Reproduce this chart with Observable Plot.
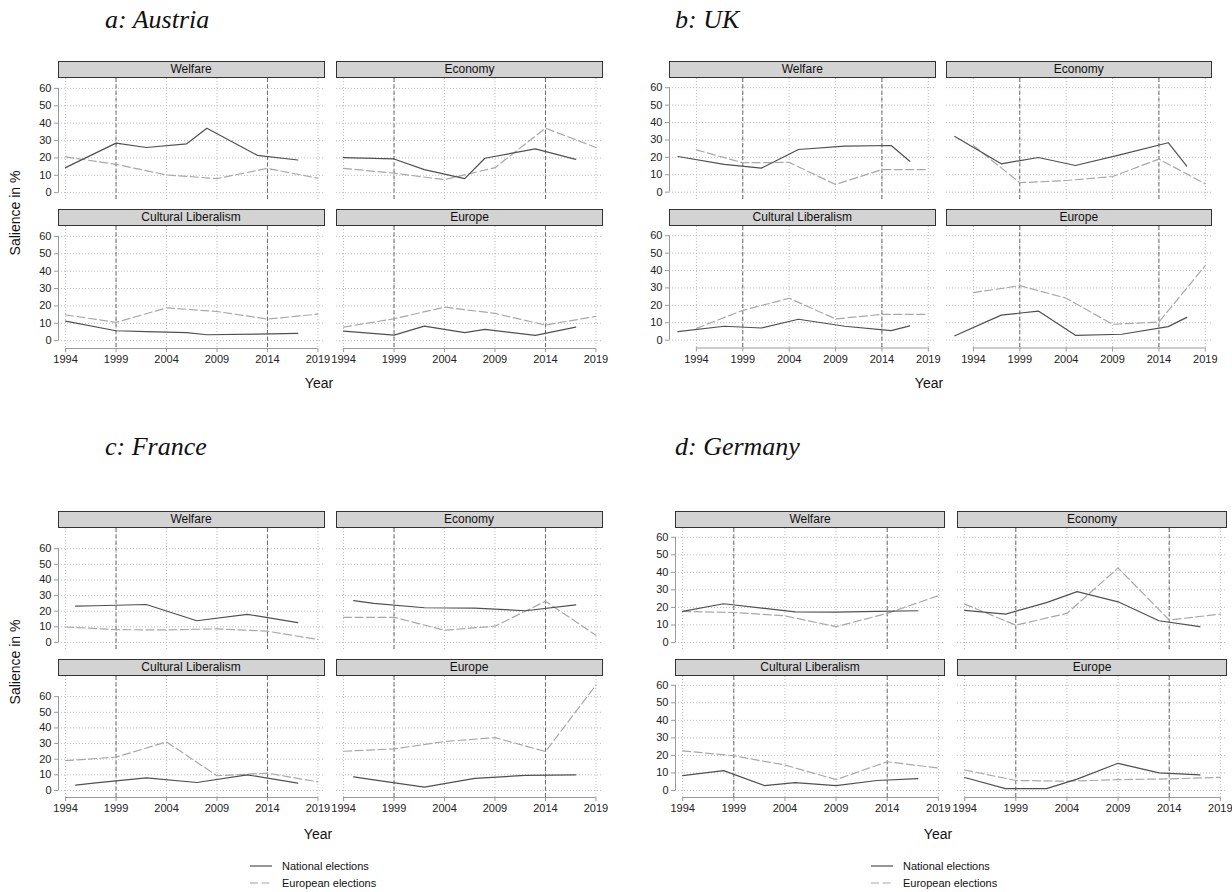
<!DOCTYPE html>
<html><head><meta charset="utf-8">
<script src="https://cdn.jsdelivr.net/npm/d3@7"></script>
<script src="https://cdn.jsdelivr.net/npm/@observablehq/plot@0.6"></script>
<style>
body{margin:0;background:#fff;font-family:"Liberation Sans",Arial,Helvetica,sans-serif;}
#root{position:relative;width:1232px;height:892px;overflow:hidden;background:#fff;}
.abs{position:absolute;}
.title{font-family:"Liberation Serif","Times New Roman",serif;font-style:italic;font-size:26px;color:#111;white-space:nowrap;line-height:30px;}
.strip{box-sizing:border-box;background:#d3d3d3;border:1px solid #333;font-size:12px;text-align:center;line-height:15px;color:#111;white-space:nowrap;}
.axlab{font-size:14px;color:#111;white-space:nowrap;transform:translate(-50%,-50%);}
.ylab{font-size:14px;color:#111;white-space:nowrap;transform:translate(-50%,-50%) rotate(-90deg);}
.leg{font-size:11px;color:#111;white-space:nowrap;display:flex;align-items:center;height:14px;}
.leg svg{margin-right:10px;}
</style></head><body><div id="root"></div>
<script>
// ---------- data ----------
const topics = ["Welfare", "Economy", "Cultural Liberalism", "Europe"];
const elections = ["National elections", "European elections"];
const countries = ["Austria", "UK", "France", "Germany"];
const titles = ["a: Austria", "b: UK", "c: France", "d: Germany"];
const xTicks = [1994, 1999, 2004, 2009, 2014, 2019];
const yTicks = [0, 10, 20, 30, 40, 50, 60];
const refYears = [1999, 2014];
const epYears = [1994, 1999, 2004, 2009, 2014, 2019];

// Austria
const atNatYears = [1994, 1999, 2002, 2006, 2008, 2013, 2017];
const atNatWelfare = [14.4, 28.5, 26.0, 28.1, 37.1, 21.5, 18.8];
const atNatEconomy = [20.2, 19.4, 13.3, 8.1, 19.8, 25.2, 19.2];
const atNatCultural = [11.3, 5.7, 5.2, 4.6, 3.4, 3.8, 4.2];
const atNatEurope = [5.5, 3.2, 8.4, 4.6, 6.5, 3.1, 7.8];
const atEpWelfare = [20.6, 16.3, 10.2, 8.1, 14.0, 8.3];
const atEpEconomy = [14.0, 11.2, 7.5, 14.4, 37.1, 26.0];
const atEpCultural = [14.9, 10.5, 18.9, 16.8, 12.4, 15.3];
const atEpEurope = [7.8, 12.6, 19.3, 15.7, 9.0, 14.0];

// UK
const ukNatYears = [1992, 1997, 2001, 2005, 2010, 2015, 2017];
const ukNatWelfare = [20.5, 16.0, 13.8, 24.5, 26.5, 26.8, 17.8];
const ukNatEconomy = [32.0, 16.3, 19.9, 15.3, 21.7, 28.4, 15.0];
const ukNatCultural = [4.9, 8.0, 7.0, 12.0, 8.0, 5.5, 8.2];
const ukNatEurope = [2.5, 14.4, 16.7, 2.8, 3.4, 7.8, 13.1];
const ukEpWelfare = [24.3, 16.9, 17.1, 4.4, 13.0, 13.0];
const ukEpEconomy = [26.8, 5.4, 6.7, 9.0, 19.0, 4.8];
const ukEpCultural = [6.8, 17.1, 24.1, 12.2, 14.8, 14.8];
const ukEpEurope = [27.3, 31.3, 24.1, 9.1, 10.4, 42.9];

// France
const frNatYears = [1995, 1997, 2002, 2007, 2012, 2017];
const frNatWelfare = [23.2, 23.5, 24.3, 13.9, 18.0, 12.7];
const frNatEconomy = [26.8, 25.0, 22.2, 22.0, 20.3, 24.1];
const frNatCultural = [3.4, 4.8, 8.1, 5.1, 10.0, 4.7];
const frNatEurope = [8.7, 6.8, 2.1, 7.7, 9.6, 10.0];
const frEpWelfare = [9.9, 8.2, 8.0, 8.7, 7.2, 1.9];
const frEpEconomy = [16.1, 16.1, 7.8, 10.4, 26.4, 4.6];
const frEpCultural = [19.1, 21.3, 31.1, 9.4, 11.1, 5.5];
const frEpEurope = [25.1, 26.6, 31.3, 33.8, 24.9, 67.4];

// Germany
const deNatYears = [1994, 1998, 2002, 2005, 2009, 2013, 2017];
const deNatWelfare = [17.7, 22.1, 19.4, 17.5, 17.3, 17.7, 18.1];
const deNatEconomy = [18.3, 16.2, 22.7, 29.0, 23.2, 12.4, 9.0];
const deNatCultural = [8.5, 11.3, 2.8, 4.5, 2.8, 5.7, 6.8];
const deNatEurope = [7.4, 1.1, 1.1, 6.5, 15.5, 10.0, 8.9];
const deEpWelfare = [17.7, 17.1, 15.2, 9.0, 16.6, 26.7];
const deEpEconomy = [21.9, 9.9, 16.6, 42.5, 12.8, 16.2];
const deEpCultural = [22.6, 19.8, 14.5, 6.2, 16.4, 12.8];
const deEpEurope = [11.7, 5.7, 5.3, 6.2, 6.6, 7.5];

// ---------- build long table ----------
const rows = [];
function add(country, years, series, election) {
  series.forEach((vals, ti) => vals.forEach((v, i) =>
    rows.push({country, topic: topics[ti], election, year: years[i], value: v})));
}
add("Austria", atNatYears, [atNatWelfare, atNatEconomy, atNatCultural, atNatEurope], elections[0]);
add("Austria", epYears, [atEpWelfare, atEpEconomy, atEpCultural, atEpEurope], elections[1]);
add("UK", ukNatYears, [ukNatWelfare, ukNatEconomy, ukNatCultural, ukNatEurope], elections[0]);
add("UK", epYears, [ukEpWelfare, ukEpEconomy, ukEpCultural, ukEpEurope], elections[1]);
add("France", frNatYears, [frNatWelfare, frNatEconomy, frNatCultural, frNatEurope], elections[0]);
add("France", epYears, [frEpWelfare, frEpEconomy, frEpCultural, frEpEurope], elections[1]);
add("Germany", deNatYears, [deNatWelfare, deNatEconomy, deNatCultural, deNatEurope], elections[0]);
add("Germany", epYears, [deEpWelfare, deEpEconomy, deEpCultural, deEpEurope], elections[1]);

// ---------- layout ----------
const layout = {
  Austria: {tx: 105, ty: 5, colX: [57.5, 336], panelW: 267, rowY: [78, 226], panelH: 122,
    xDom: [1993.3, 2019.75], yDom: [-4.5, 65.7], year: [319, 383], ylab: [15, 213], legend: null},
  UK: {tx: 675, ty: 5, colX: [669, 945.5], panelW: 266.5, rowY: [78, 226], panelH: 121.5,
    xDom: [1991.1, 2019.83], yDom: [-4.5, 65.3], year: [929, 383], ylab: null, legend: null},
  France: {tx: 105, ty: 432, colX: [57.5, 335.5], panelW: 267, rowY: [528.3, 676], panelH: 121,
    xDom: [1993.3, 2019.75], yDom: [-4.5, 72.9], year: [318, 834], ylab: [15, 662], legend: [250, 866]},
  Germany: {tx: 675, ty: 432, colX: [675, 957], panelW: 270, rowY: [527.7, 676], panelH: 121,
    xDom: [1993.3, 2019.7], yDom: [-4, 65], year: [938, 834], ylab: null, legend: [871, 866]}
};

const root = document.getElementById("root");
function div(cls, text, x, y, extra) {
  const d = document.createElement("div");
  d.className = "abs " + cls;
  d.textContent = text;
  d.style.left = x + "px";
  d.style.top = y + "px";
  if (extra) Object.assign(d.style, extra);
  root.appendChild(d);
  return d;
}

const gridStyle = {stroke: "#bdbdbd", strokeOpacity: 1, strokeWidth: 1, strokeDasharray: "1,2"};
const axisColor = "#9a9a9a";

function makePanel(cname, ti) {
  const L = layout[cname];
  const col = ti % 2, row = ti >> 1;
  const left = col === 0, bottom = row === 1;
  const ml = left ? 45 : 0, mb = bottom ? 30 : 0;
  const pts = rows.filter(d => d.country === cname && d.topic === topics[ti]);
  const marks = [
    Plot.gridY(yTicks, gridStyle),
    Plot.gridX(xTicks, gridStyle),
    Plot.ruleX(refYears, {stroke: "#6a6a6a", strokeWidth: 1, strokeDasharray: "4,2.5"}),
    Plot.line(pts.filter(d => d.election === elections[1]), {x: "year", y: "value", stroke: "#a8a8a8", strokeWidth: 1.2, strokeDasharray: "8,3.5"}),
    Plot.line(pts.filter(d => d.election === elections[0]), {x: "year", y: "value", stroke: "#505050", strokeWidth: 1.2})
  ];
  if (left) {
    marks.push(Plot.ruleX([L.xDom[0]], {y1: yTicks[0], y2: yTicks[yTicks.length - 1], stroke: axisColor}));
    marks.push(Plot.axisY(yTicks, {tickSize: 4, tickPadding: 3, label: null, stroke: axisColor, fill: "#222", fontSize: 11}));
  }
  if (bottom) {
    marks.push(Plot.ruleY([L.yDom[0]], {x1: xTicks[0], x2: xTicks[xTicks.length - 1], stroke: axisColor}));
    marks.push(Plot.axisX(xTicks, {tickSize: 4, tickPadding: 3, label: null, stroke: axisColor, fill: "#222", fontSize: 11, tickFormat: d => String(d)}));
  }
  const svg = Plot.plot({
    width: ml + L.panelW,
    height: L.panelH + mb,
    marginLeft: ml, marginRight: 0, marginTop: 0, marginBottom: mb,
    x: Object.assign({domain: L.xDom}, bottom ? {} : {axis: null}),
    y: Object.assign({domain: L.yDom}, left ? {} : {axis: null}),
    style: {background: "transparent", overflow: "visible", fontFamily: "'Liberation Sans', Arial, sans-serif", fontSize: "11px", color: "#222"},
    marks
  });
  svg.style.position = "absolute";
  svg.style.left = (L.colX[col] - ml) + "px";
  svg.style.top = L.rowY[row] + "px";
  root.appendChild(svg);
  // facet strip
  div("strip", topics[ti], L.colX[col], L.rowY[row] - 17, {width: L.panelW + "px", height: "17px"});
}

countries.forEach((c, ci) => {
  const L = layout[c];
  div("title", titles[ci], L.tx, L.ty);
  for (let ti = 0; ti < topics.length; ti++) makePanel(c, ti);
  div("axlab", "Year", L.year[0], L.year[1]);
  if (L.ylab) div("ylab", "Salience in %", L.ylab[0], L.ylab[1]);
  if (L.legend) {
    elections.forEach((e, i) => {
      const d = div("leg", "", L.legend[0], L.legend[1] + i * 17 - 7);
      const ns = "http://www.w3.org/2000/svg";
      const s = document.createElementNS(ns, "svg");
      s.setAttribute("width", 22); s.setAttribute("height", 14);
      const ln = document.createElementNS(ns, "line");
      ln.setAttribute("x1", 0); ln.setAttribute("x2", 22); ln.setAttribute("y1", 7); ln.setAttribute("y2", 7);
      ln.setAttribute("stroke", i === 0 ? "#505050" : "#a8a8a8");
      ln.setAttribute("stroke-width", 1.2);
      if (i === 1) ln.setAttribute("stroke-dasharray", "8,3.5");
      s.appendChild(ln);
      d.appendChild(s);
      d.appendChild(document.createTextNode(e));
    });
  }
});
</script></body></html>
